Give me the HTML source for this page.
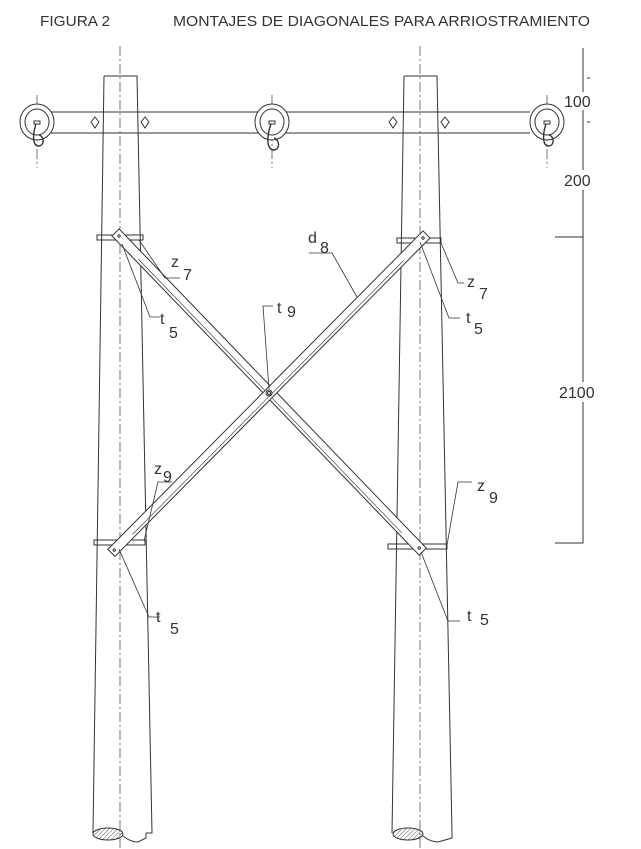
<!DOCTYPE html>
<html><head><meta charset="utf-8"><style>
html,body{margin:0;padding:0;background:#fff;}
svg{display:block;}
text{font-family:"Liberation Sans",sans-serif;fill:#333;}
</style></head><body>
<svg width="641" height="849" viewBox="0 0 641 849" xmlns="http://www.w3.org/2000/svg">
<defs>
<pattern id="h" width="3" height="3" patternUnits="userSpaceOnUse" patternTransform="rotate(45)">
<line x1="0" y1="0" x2="0" y2="3" stroke="#333" stroke-width="0.8"/>
</pattern>
</defs>
<text x="40" y="26" font-size="15" textLength="70" lengthAdjust="spacingAndGlyphs">FIGURA 2</text>
<text x="173" y="26" font-size="15" textLength="417" lengthAdjust="spacingAndGlyphs">MONTAJES DE DIAGONALES PARA ARRIOSTRAMIENTO</text>

<g stroke="#555" stroke-width="0.8" fill="none" stroke-dasharray="10,3,2,3">
<line x1="120" y1="46" x2="120" y2="849"/>
<line x1="420" y1="46" x2="420" y2="849"/>
<line x1="37" y1="95" x2="37" y2="168"/>
<line x1="272" y1="95" x2="272" y2="168"/>
<line x1="547" y1="95" x2="547" y2="168"/>
</g>

<g stroke="#333" stroke-width="1" fill="none">
<path d="M104,76 H137 L152,833 L146,833 M93,833 L104,76"/>
<ellipse cx="108" cy="834" rx="15" ry="6" fill="url(#h)"/>
<path d="M123,836 C128,840 133,842 138,842 L146,838 L146,833"/>
<path d="M404,76 H437 L452,833 M392,833 L404,76"/>
<ellipse cx="408" cy="834" rx="15" ry="6" fill="url(#h)"/>
<path d="M423,836 C428,840 433,842 438,842 L452,838 L452,833"/>

<rect x="37" y="112" width="511" height="21" stroke="none"/>
<path d="M50,112 H530 M50,133 H530"/>
<g fill="#fff">
<ellipse cx="37" cy="122" rx="17" ry="18"/><ellipse cx="37" cy="122" rx="12" ry="13"/>
<ellipse cx="272" cy="122" rx="17" ry="18"/><ellipse cx="272" cy="122" rx="12" ry="13"/>
<ellipse cx="547" cy="122" rx="17" ry="18"/><ellipse cx="547" cy="122" rx="12" ry="13"/>
</g>
<g stroke-width="1.4">
<path d="M36,124 C32,136 33,147 39,146 C45,145 44,136 39,135"/>
<path d="M271,124 C266,138 267,150 274,150 C281,149 279,139 274,138"/>
<path d="M546,124 C542,136 543,147 549,146 C555,145 554,136 549,135"/>
</g>
<rect x="34" y="121" width="6" height="3"/><rect x="269" y="121" width="6" height="3"/><rect x="544" y="121" width="6" height="3"/>
<path d="M95,117 L99,122 L95,128 L91,122Z M145,117 L149,122 L145,128 L141,122Z M393,117 L397,122 L393,128 L389,122Z M445,117 L449,122 L445,128 L441,122Z"/>

<rect x="97" y="235" width="46" height="5"/><rect x="397" y="238" width="44" height="5"/>
<rect x="94" y="540" width="51" height="5"/><rect x="388" y="544" width="59" height="5"/>

<g transform="translate(119,236) rotate(46.1)">
<rect x="-5" y="-5" width="443" height="10" fill="#fff"/>
<line x1="30" y1="2" x2="410" y2="2" stroke-width="0.6"/>
<circle cx="0" cy="0" r="1.2"/><circle cx="433" cy="0" r="1.2"/>
</g>
<g transform="translate(423,238) rotate(134.7)">
<rect x="-5" y="-5" width="448" height="10" fill="#fff"/>
<line x1="30" y1="-2" x2="415" y2="-2" stroke-width="0.6"/>
<circle cx="0" cy="0" r="1.2"/><circle cx="439" cy="0" r="1.2"/>
</g>
<circle cx="269" cy="393" r="3"/><circle cx="269" cy="393" r="1.5"/>

<g stroke-width="0.8">
<path d="M139,240 L165,278 H180"/>
<path d="M122,244 L150,317 H160"/>
<path d="M269,389 L263,306 H273"/>
<path d="M357,297 L332,253 H309"/>
<path d="M441,243 L458,283 H464"/>
<path d="M420,242 L449,318 H460"/>
<path d="M144,541 L158,482 H172"/>
<path d="M119,549 L149,617 H160"/>
<path d="M447,545 L458,482 H472"/>
<path d="M421,552 L448,621 H460"/>
</g>

<path d="M583,48 V92 M583,110 V170 M583,190 V237 M555,237 H583 V382 M583,402 V543 H555"/>
<path d="M587,78 H590 M587,122 H590"/>
</g>

<g font-size="16">
<text x="171" y="267">z</text><text x="183" y="280">7</text>
<text x="160" y="324">t</text><text x="169" y="338">5</text>
<text x="277" y="313">t</text><text x="287" y="317">9</text>
<text x="308" y="243">d</text><text x="320" y="253">8</text>
<text x="467" y="287">z</text><text x="479" y="299">7</text>
<text x="466" y="323">t</text><text x="474" y="334">5</text>
<text x="154" y="474">z</text><text x="163" y="482">9</text>
<text x="156" y="622">t</text><text x="170" y="634">5</text>
<text x="477" y="491">z</text><text x="489" y="503">9</text>
<text x="467" y="621">t</text><text x="480" y="625">5</text>
<text x="564" y="107">100</text>
<text x="564" y="186">200</text>
<text x="559" y="398">2100</text>
</g>
</svg>
</body></html>
